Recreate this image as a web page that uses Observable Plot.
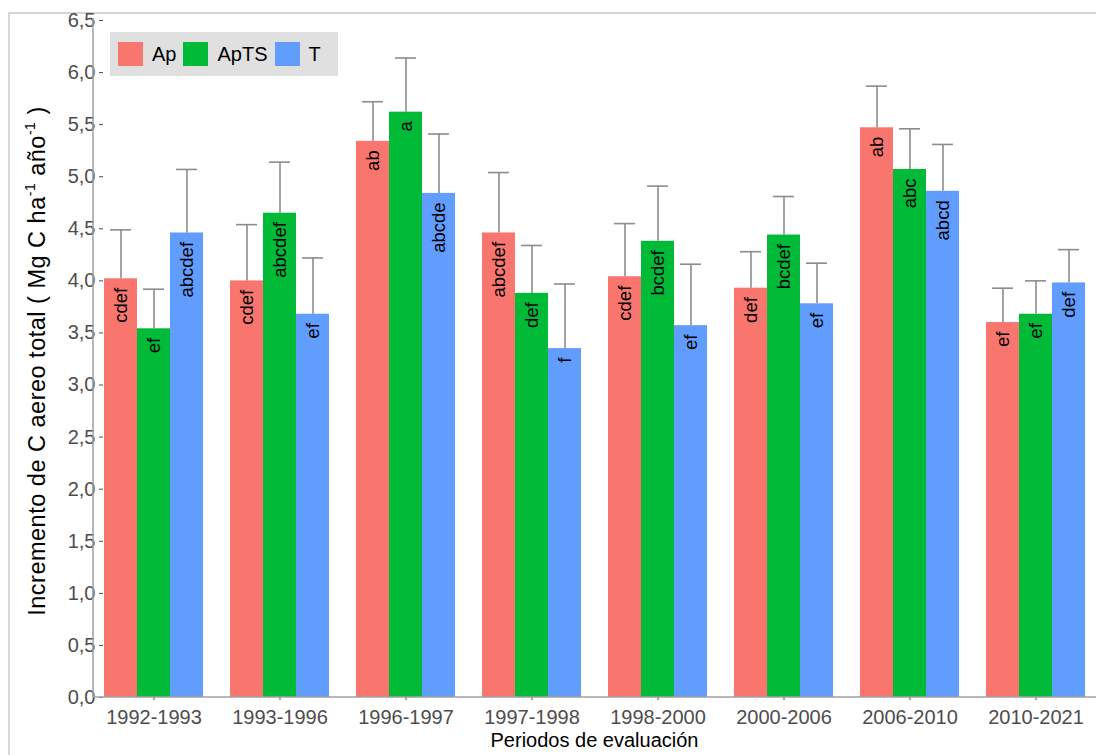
<!DOCTYPE html>
<html><head><meta charset="utf-8">
<script src="https://cdn.jsdelivr.net/npm/d3@7"></script>
<script src="https://cdn.jsdelivr.net/npm/@observablehq/plot@0.6"></script>
<style>
html,body{margin:0;padding:0;background:#fff;overflow:hidden}
#wrap{position:relative;width:1096px;height:755px;font-family:"Liberation Sans",Arial,sans-serif}
#border{position:absolute;left:8px;top:12px;width:1200px;height:900px;border-top:2px solid #d6d6d6;border-left:2px solid #d6d6d6;box-sizing:border-box}
#legend{position:absolute;left:110px;top:32px;width:228px;height:44px;background:#e0e0e0;display:flex;align-items:center;box-sizing:border-box;padding-left:8px;font-size:20px;color:#000}
#legend .k{width:25px;height:24px;margin-right:9px}
#legend .t{margin-right:7px}
#chart{position:absolute;left:0;top:0}
</style></head>
<body>
<div id="wrap"><div id="border"></div><div id="chart"></div><div id="legend"></div></div>
<script>
const periods = ["1992-1993","1993-1996","1996-1997","1997-1998","1998-2000","2000-2006","2006-2010","2010-2021"];
const series = ["Ap","ApTS","T"];
const colors = ["#F8766D","#00BA38","#619CFF"];
const apValues   = [4.02,4.00,5.34,4.46,4.04,3.93,5.47,3.60];
const aptsValues = [3.54,4.65,5.62,3.88,4.38,4.44,5.07,3.68];
const tValues    = [4.46,3.68,4.84,3.35,3.57,3.78,4.86,3.98];
const apUpper    = [4.49,4.54,5.72,5.04,4.55,4.28,5.87,3.93];
const aptsUpper  = [3.92,5.14,6.14,4.34,4.91,4.81,5.46,4.00];
const tUpper     = [5.07,4.22,5.41,3.97,4.16,4.17,5.31,4.30];
const apLabels   = ["cdef","cdef","ab","abcdef","cdef","def","ab","ef"];
const aptsLabels = ["ef","abcdef","a","def","bcdef","bcdef","abc","ef"];
const tLabels    = ["abcdef","ef","abcde","f","ef","ef","abcd","def"];
const yTicks = [0,0.5,1,1.5,2,2.5,3,3.5,4,4.5,5,5.5,6,6.5];
const xTitle = "Periodos de evaluación";
const yTitleMain = "Incremento de C aereo total ( Mg C ha";

const valuesBy = [apValues, aptsValues, tValues];
const upperBy = [apUpper, aptsUpper, tUpper];
const labelsBy = [apLabels, aptsLabels, tLabels];
const rows = [];
periods.forEach((p, i) => series.forEach((s, j) => rows.push({
  period: p, series: s, value: valuesBy[j][i], upper: upperBy[j][i], label: labelsBy[j][i]
})));

const W = 1096, H = 755, mL = 93, mR = 0, mT = 20, mB = 58;
const fmt = d => d.toFixed(1).replace(".", ",");

const plot = Plot.plot({
  width: W, height: H,
  marginLeft: mL, marginRight: mR, marginTop: mT, marginBottom: mB,
  style: {fontFamily: "Liberation Sans, Arial, sans-serif", fontSize: "20px", color: "#4d4d4d", background: "transparent", overflow: "visible"},
  facet: {data: rows, x: "period"},
  fx: {domain: periods, paddingInner: 0.2, paddingOuter: 0.05, label: null, tickSize: 3, tickPadding: 9},
  x: {domain: series, padding: 0, axis: null},
  y: {domain: [0, 6.5], ticks: yTicks, tickFormat: fmt, tickSize: 4, tickPadding: 4, label: null},
  color: {domain: series, range: colors},
  marks: [
    Plot.barY(rows, {x: "series", y: "value", fill: "series"}),
    Plot.ruleX(rows, {x: "series", y1: "value", y2: "upper", stroke: "#8c8c8c", strokeWidth: 1.6}),
    Plot.tickY(rows, {x: "series", y: "upper", stroke: "#8c8c8c", strokeWidth: 1.6, insetLeft: 6, insetRight: 6}),
    Plot.text(rows, {x: "series", y: "value", text: "label", rotate: -90, textAnchor: "end", dy: 9, fill: "#000", fontSize: 18.5})
  ]
});
document.getElementById("chart").appendChild(plot);

const svg = d3.select(plot);
// axis lines
svg.append("line").attr("x1", mL).attr("x2", mL).attr("y1", mT - 2).attr("y2", H - mB)
  .attr("stroke", "#a0a0a0").attr("stroke-width", 1.5);
svg.append("line").attr("x1", mL).attr("x2", W).attr("y1", H - mB).attr("y2", H - mB)
  .attr("stroke", "#a0a0a0").attr("stroke-width", 1.5);
// x title
svg.append("text").attr("x", (mL + W - mR) / 2).attr("y", 747).attr("text-anchor", "middle")
  .attr("fill", "#000").style("font-size", "20px").text(xTitle);
// y title
const yt = svg.append("text").attr("transform", `translate(45,361) rotate(-90)`)
  .attr("text-anchor", "middle").attr("fill", "#000").style("font-size", "23.5px").style("letter-spacing", "0.5px");
yt.append("tspan").text(yTitleMain);
yt.append("tspan").attr("dy", -10).style("font-size", "14px").text("-1");
yt.append("tspan").attr("dy", 10).text(" año");
yt.append("tspan").attr("dy", -10).style("font-size", "14px").text("-1");
yt.append("tspan").attr("dy", 10).text(" )");

// legend
const lg = document.getElementById("legend");
series.forEach((s, j) => {
  const k = document.createElement("div"); k.className = "k"; k.style.background = colors[j]; lg.appendChild(k);
  const t = document.createElement("div"); t.className = "t"; t.textContent = s; lg.appendChild(t);
});
</script>
</body></html>
